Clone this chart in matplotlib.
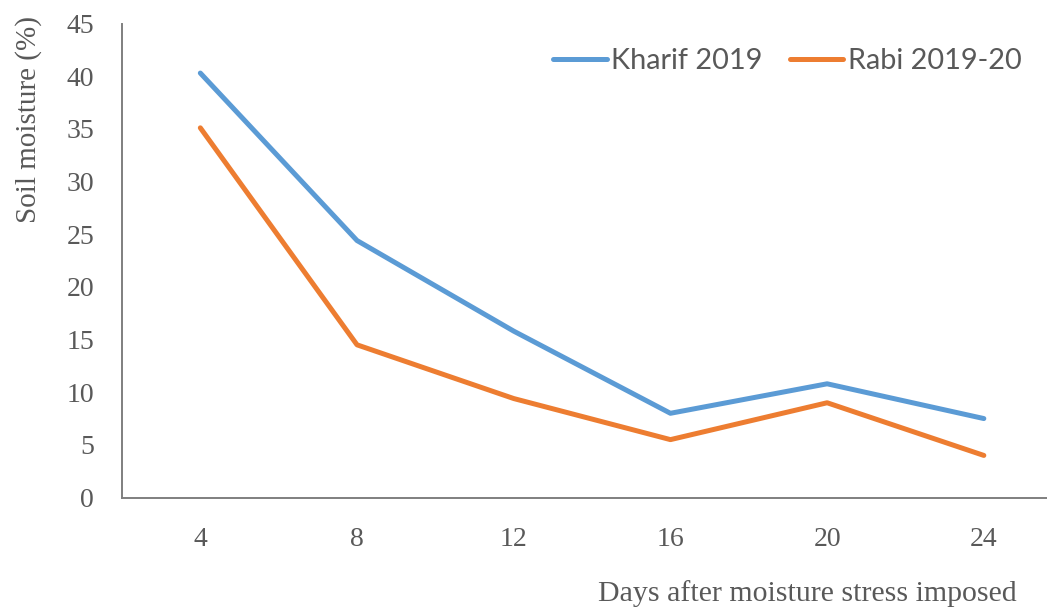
import matplotlib
matplotlib.use("Agg")
import matplotlib.pyplot as plt

# Soil moisture after moisture stress imposed
days = ["4", "8", "12", "16", "20", "24"]
kharif_2019 = [40.3, 24.4, 15.8, 8.0, 10.8, 7.5]
rabi_2019_20 = [35.1, 14.5, 9.4, 5.5, 9.0, 4.0]
y_ticks = [0, 5, 10, 15, 20, 25, 30, 35, 40, 45]

BLUE = "#5B9BD5"
ORANGE = "#ED7D31"
GREY = "#595959"
SERIF = "Liberation Serif"

fig = plt.figure(figsize=(10.47, 6.12), dpi=100)
ax = fig.add_axes([0.1165, 0.187, 0.898, 0.7745])

x = list(range(len(days)))
ax.plot(x, kharif_2019, color=BLUE, lw=3.6, solid_capstyle="round",
        solid_joinstyle="round", label="Kharif 2019")
ax.plot(x, rabi_2019_20, color=ORANGE, lw=3.6, solid_capstyle="round",
        solid_joinstyle="round", label="Rabi 2019-20")

ax.set_xlim(-0.5, len(days) - 0.5)
ax.set_ylim(0, 45)
ax.set_xticks(x)
ax.set_xticklabels(days)
ax.set_yticks(y_ticks)
ax.set_yticklabels([str(v) for v in y_ticks])

for side in ("top", "right"):
    ax.spines[side].set_visible(False)
for side in ("left", "bottom"):
    ax.spines[side].set_color("#7f7f7f")
    ax.spines[side].set_linewidth(1.4)

ax.tick_params(axis="both", length=0, colors=GREY)
ax.tick_params(axis="x", pad=21)
ax.tick_params(axis="y", pad=20)
for lab in ax.get_xticklabels() + ax.get_yticklabels():
    lab.set_fontfamily(SERIF)
    lab.set_fontsize(20)
    lab.set_color(GREY)

fig.text(0.027, 0.804, "Soil moisture (%)", rotation=90, ha="center", va="center",
         fontfamily=SERIF, fontsize=21, color=GREY)
fig.text(0.771, 0.031, "Days after moisture stress imposed", ha="center",
         va="center", fontfamily=SERIF, fontsize=21.5, color=GREY)

leg = fig.legend(loc="center left", bbox_to_anchor=(0.5146, 0.9), ncol=2,
                 frameon=False, handlelength=1.85, handletextpad=0.15,
                 columnspacing=0.95, borderpad=0,
                 prop={"family": "Lato", "size": 20.8})
for t in leg.get_texts():
    t.set_color(GREY)

fig.savefig("out.png", dpi=100)
